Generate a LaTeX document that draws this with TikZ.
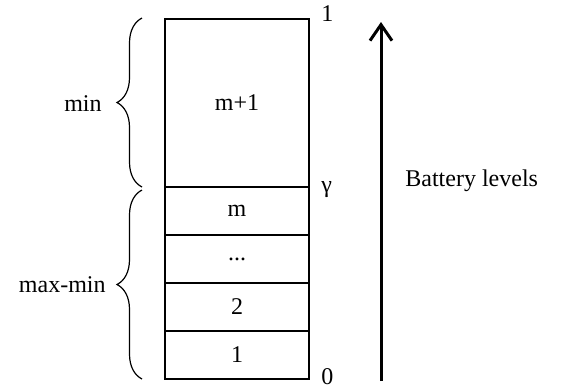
\documentclass[tikz,border=0pt]{standalone}
\usepackage{fontspec}
\setmainfont{Liberation Serif}
\usetikzlibrary{positioning,arrows.meta,decorations.pathreplacing}

\begin{document}
\begin{tikzpicture}[
        x=0.5pt, y=-0.5pt,
        font=\fontsize{12pt}{14pt}\selectfont,
        cell/.style={draw, line width=0.8pt, outer sep=0pt, inner sep=0pt,
            minimum width=72pt, minimum height=24pt},
        bracestyle/.style={decorate, line width=0.6pt,
            decoration={brace, amplitude=12.5pt}},
        levelarrow/.style={line width=1.5pt, -{Straight Barb[length=8pt,width=11pt]}},
    ]
        \useasboundingbox (0,0) rectangle (562,388);

        % the cells, top to bottom
        \node[cell, minimum height=84pt] (top) at (237,103) {m+1};
        \node[cell, below=0pt of top] (m) {m};
        \node[cell, below=0pt of m] (dots) {...};
        \node[cell, below=0pt of dots] (two) {2};
        \node[cell, below=0pt of two] (one) {1};

        % level marks
        \node[anchor=west, inner sep=0pt] (lone) at (321,14) {1};
        \node[anchor=west, inner sep=0pt] (lgamma) at (321,190) {γ};
        \node[anchor=west, inner sep=0pt] (lzero) at (321,377) {0};

        % braces
        \coordinate (bminlo) at (142,187);
        \coordinate (bminhi) at (142,18);
        \coordinate (bmaxlo) at (142,379);
        \coordinate (bmaxhi) at (142,190);
        \draw[bracestyle] (bminlo) -- (bminhi);
        \draw[bracestyle] (bmaxlo) -- (bmaxhi);
        \node[anchor=east, inner sep=0pt] (lmin) at (102,104) {min};
        \node[anchor=east, inner sep=0pt] (lmaxmin) at (106,285) {max-min};

        % battery level arrow
        \coordinate (arrlo) at (381,381);
        \coordinate (arrhi) at (381,22);
        \draw[levelarrow] (arrlo) -- (arrhi);
        \node[anchor=west, inner sep=0pt] (lbat) at (405,181) {Battery levels};
    \end{tikzpicture}
\end{document}
